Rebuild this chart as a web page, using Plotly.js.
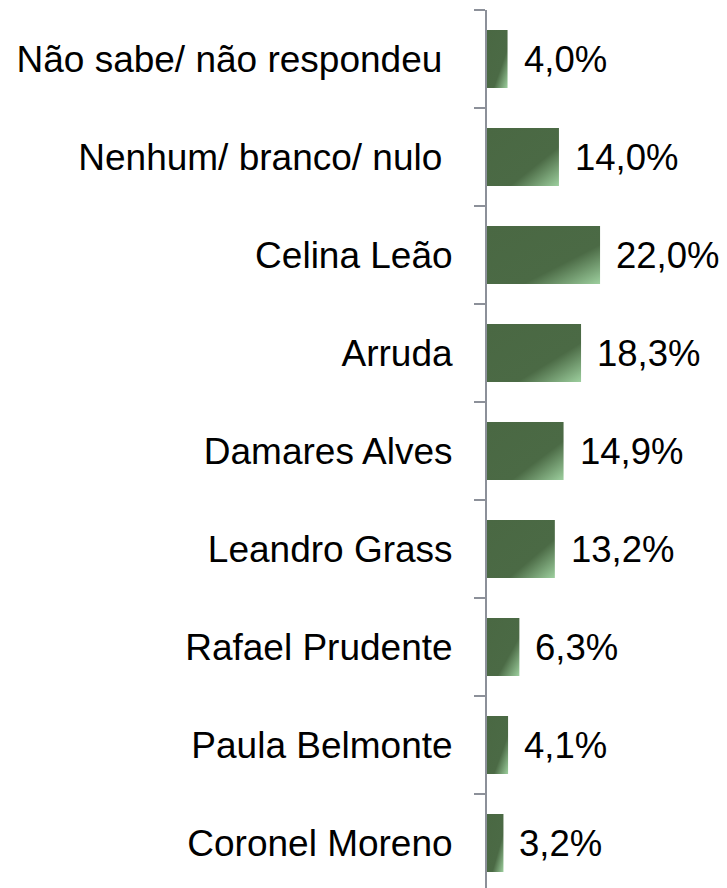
<!DOCTYPE html>
<html>
<head>
<meta charset="utf-8">
<script src="https://cdn.plot.ly/plotly-3.0.1.min.js"></script>
<style>html,body{margin:0;padding:0;background:#fff;}#chart{width:727px;height:888px;}</style>
</head>
<body>
<div id="chart"></div>
<script>
// Data (bottom to top)
const categories = ["Coronel Moreno", "Paula Belmonte", "Rafael Prudente", "Leandro Grass", "Damares Alves", "Arruda", "Celina Leão", "Nenhum/ branco/ nulo\u00a0", "Não sabe/ não respondeu\u00a0"];
const values = [3.2, 4.1, 6.3, 13.2, 14.9, 18.3, 22.0, 14.0, 4.0];
const valueLabels = ["3,2%", "4,1%", "6,3%", "13,2%", "14,9%", "18,3%", "22,0%", "14,0%", "4,0%"];

const FONT = "'Liberation Sans', Arial, sans-serif";
const FSIZE = 37;

const trace = {
  type: "bar",
  orientation: "h",
  y: categories,
  x: values,
  marker: {color: "#4b6a45", line: {width: 0}},
  hoverinfo: "none"
};

const annotations = categories.map((c, i) => ({
  x: values[i], y: c, xref: "x", yref: "y",
  text: valueLabels[i], showarrow: false,
  xanchor: "left", yanchor: "middle", xshift: 14,
  font: {family: FONT, size: 36.5, color: "#000"}
}));

const layout = {
  width: 727, height: 888,
  margin: {l: 487, r: 0, t: 10, b: 0},
  paper_bgcolor: "#fff", plot_bgcolor: "#fff",
  showlegend: false,
  bargap: 0.41,
  xaxis: {range: [0, 46.7], visible: false, showgrid: false, zeroline: false},
  yaxis: {
    type: "category",
    range: [-0.459, 8.5],
    showline: true, linecolor: "#8c9099", linewidth: 2,
    ticks: "outside", tickson: "boundaries", ticklen: 11, tickwidth: 2, tickcolor: "#8c9099",
    ticklabelstandoff: 25,
    tickfont: {family: FONT, size: FSIZE, color: "#000"},
    showgrid: false, zeroline: false
  },
  annotations: annotations
};

Plotly.newPlot("chart", [trace], layout, {staticPlot: true, displayModeBar: false}).then(() => {
  const svg = document.querySelector("#chart .main-svg");
  const ns = "http://www.w3.org/2000/svg";
  let defs = svg.querySelector("defs");
  if (!defs) { defs = document.createElementNS(ns, "defs"); svg.insertBefore(defs, svg.firstChild); }
  const g = document.createElementNS(ns, "linearGradient");
  g.setAttribute("id", "bargrad");
  g.setAttribute("x1", "0"); g.setAttribute("y1", "0");
  g.setAttribute("x2", "1"); g.setAttribute("y2", "1");
  [["0", "#4a6843"], ["0.66", "#4b6a45"], ["1", "#9dcf9e"]].forEach(([o, c]) => {
    const s = document.createElementNS(ns, "stop");
    s.setAttribute("offset", o); s.setAttribute("stop-color", c);
    g.appendChild(s);
  });
  defs.appendChild(g);
  document.querySelectorAll("#chart .bars .point path").forEach(p => { p.style.fill = "url(#bargrad)"; });
});
</script>
</body>
</html>
